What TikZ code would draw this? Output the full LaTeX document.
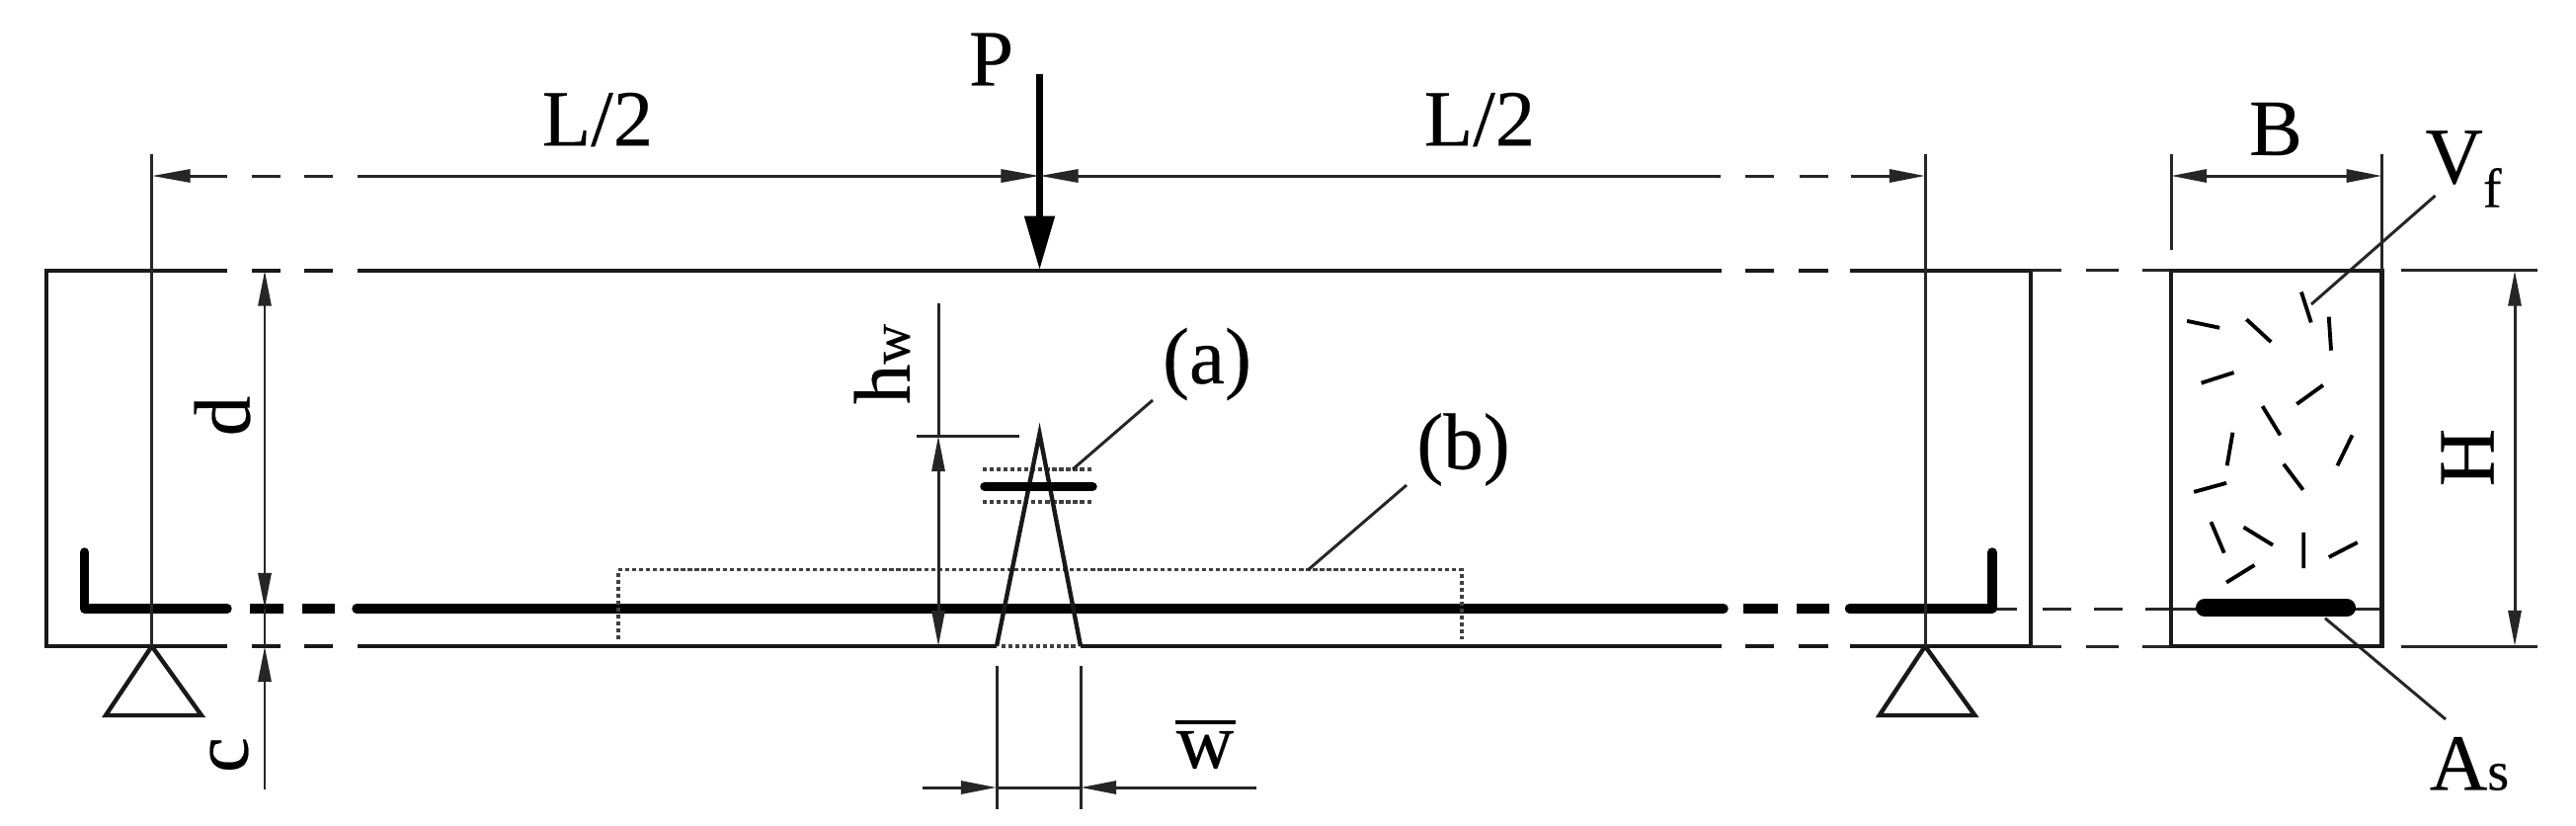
\documentclass[tikz,border=0pt]{standalone}
\usepackage{fontspec}
\setmainfont[RawFeature={embolden=0.25}]{Liberation Serif}
\usetikzlibrary{arrows.meta}
\newcommand{\subsize}{\fontsize{16}{16}\selectfont}
\tikzset{
  beamline/.style={line width=1.25pt,black!90},
  thinline/.style={line width=0.85pt,black!85},
  rebar/.style={line width=2.7pt,black,line cap=round,line join=round},
  dotline/.style={line width=1pt,black!75,dash pattern=on 1.2pt off 0.8pt},
  fibre/.style={line width=1.1pt,black},
  dimtip/.style={-{Triangle[length=0.36cm,width=0.13cm]}},
  bothtip/.style={{Triangle[length=0.36cm,width=0.13cm]}-{Triangle[length=0.36cm,width=0.13cm]}},
  lbl/.style={inner sep=0,font=\fontsize{23}{23}\selectfont,text=black},
}
\begin{document}
\begin{tikzpicture}[x=0.01cm,y=-0.01cm]
\useasboundingbox (0,0) rectangle (2608,835);
\fill[white] (0,0) rectangle (2608,835);
% named reference points
\coordinate (ST) at (153.7,654);
\coordinate (SR) at (1949,654);
\coordinate (CT) at (1052.5,439);
\coordinate (CL) at (1009,654);
\coordinate (CR) at (1094,654);

% ---- beam outline
\draw[beamline] (362,273.7) -- (1743,273.7) (1767,273.7) -- (1796,273.7) (1821,273.7) -- (1851,273.7);
\draw[beamline] (230,273.7) -- (47,273.7) -- (47,654) -- (230,654);
\draw[beamline] (255,273.7) -- (284,273.7) (308,273.7) -- (337,273.7);
\draw[beamline] (255,654) -- (284,654) (308,654) -- (337,654);
\draw[beamline] (362,654) -- (CL) (CR) -- (1743,654) (1767,654) -- (1796,654) (1821,654) -- (1851,654);
\draw[beamline] (1873,273.7) -- (2056,273.7) -- (2056,654) -- (1873,654);

% ---- projection lines between beam and section
\draw[thinline] (2056,273.7) -- (2087,273.7) (2112,273.7) -- (2145,273.7) (2169,273.7) -- (2198,273.7);
\draw[thinline] (2056,654) -- (2087,654) (2112,654) -- (2145,654) (2169,654) -- (2198,654);
\draw[thinline] (2017,616) -- (2041.6,616) (2067.7,616) -- (2096.6,616) (2120,616) -- (2149,616) (2172,616) -- (2224,616);
\draw[thinline] (2384,616) -- (2411.6,616);
\draw[thinline] (2430.7,273.7) -- (2568.6,273.7) (2430.7,654) -- (2568.6,654);

% ---- rebar
\draw[rebar] (85.5,559) -- (85.5,616) -- (230,616);
\draw[rebar,line cap=butt] (252.5,616) -- (287,616) (306,616) -- (338.5,616);
\draw[rebar] (361,616) -- (1745,616);
\draw[rebar,line cap=butt] (1765,616) -- (1799.6,616) (1818.7,616) -- (1851.7,616);
\draw[rebar] (1872.5,616) -- (2017,616) -- (2017,559);

% ---- dotted boxes
\draw[dotline] (626,647) -- (626,576.7) -- (1480,576.7) -- (1480,647);
\draw[dotline] (995,475) -- (1106,475) (995,508) -- (1106,508);
\draw[dotline] (1014,654) -- (1090,654);

% ---- crack and small bar
\draw[beamline] (CL) -- (CT) -- (CR);
\draw[rebar] (997,492.5) -- (1106,492.5);

% ---- supports
\draw[beamline,line join=miter] (ST) -- (107,724) -- (204,724) -- cycle;
\draw[beamline,line join=miter] (SR) -- (1902.7,724) -- (1999.4,724) -- cycle;

% ---- L/2 dimension line
\draw[thinline] (153.7,155.5) -- (ST);
\draw[thinline] (1949,155.5) -- (SR);
\draw[thinline,{Triangle[length=0.39cm,width=0.13cm]}-] (153.7,178) -- (230,178);
\draw[thinline] (255,178) -- (284,178) (308,178) -- (337,178);
\draw[thinline,-{Triangle[length=0.39cm,width=0.13cm]}] (362,178) -- (1052.5,178);
\draw[thinline,{Triangle[length=0.39cm,width=0.13cm]}-] (1052.5,178) -- (1741.7,178);
\draw[thinline] (1767,178) -- (1796,178) (1821.6,178) -- (1851,178);
\draw[thinline,-{Triangle[length=0.36cm,width=0.13cm]}] (1873.7,178) -- (1949,178);

% ---- load P
\draw[line width=2.2pt,black,-{Triangle[length=0.55cm,width=0.29cm]}] (1052.5,74.5) -- (1052.5,273.7);

% ---- d and c dimension
\draw[thinline,bothtip] (268,273.7) -- (268,616);
\draw[thinline] (268,616) -- (268,654);
\draw[thinline,{Triangle[length=0.36cm,width=0.13cm]}-] (268,654) -- (268,799);

% ---- h_w dimension
\draw[thinline] (927.6,441) -- (1032,441);
\draw[thinline] (950,307) -- (950,441);
\draw[thinline,bothtip] (950,441) -- (950,654);

% ---- w dimension
\draw[thinline] (1009,673.6) -- (1009,819) (1094,673.6) -- (1094,819);
\draw[thinline,-{Triangle[length=0.36cm,width=0.13cm]}] (934,797) -- (1009,797);
\draw[thinline] (1009,797) -- (1094,797);
\draw[thinline,-{Triangle[length=0.36cm,width=0.13cm]}] (1272,797) -- (1094,797);
\draw[line width=1.3pt,black] (1190,731) -- (1251,731);

% ---- leaders
\draw[thinline] (1086,475) -- (1167,405);
\draw[thinline] (1324.4,576.7) -- (1424,491);
\draw[thinline] (2465.5,198) -- (2340,308);
\draw[thinline] (2354,625.7) -- (2476,728);

% ---- cross section
\draw[beamline] (2198,273.7) rectangle (2411.6,654);
\draw[line width=18*0.2845pt,line cap=round,black] (2232,615.3) -- (2376,615.3);
\draw[thinline] (2198,155.5) -- (2198,253) (2411.6,155.5) -- (2411.6,273.7);
\draw[thinline,bothtip] (2198,178) -- (2411.6,178);
\draw[thinline,bothtip] (2546,273.7) -- (2546,654);

% ---- fibres
\begin{scope}[shift={(1700,0)},xscale=0.579,yscale=0.5325]
\draw[fibre] (1088,555) -- (1105,613) (888,610) -- (945,623) (992,607) -- (1035,650)
  (1136,602) -- (1140,666) (913,728) -- (970,708) (1080,768) -- (1126,732)
  (1020,772) -- (1051,827) (968,822) -- (958,885) (1177,827) -- (1151,885)
  (1057,882) -- (1091,931) (900,935) -- (957,918) (930,992) -- (953,1051)
  (987,1002) -- (1038,1036) (1092,1012) -- (1092,1080) (1136,1059) -- (1186,1031)
  (957,1107) -- (1006,1074);
\end{scope}

% ---- labels
\node[lbl] (L1) at (605,121) {L/2};
\node[lbl] (L2) at (1498,121) {L/2};
\node[lbl] (P) at (1003.6,60) {P};
\node[lbl,rotate=90] (d) at (225,421) {d};
\node[lbl,rotate=90] (c) at (232,764) {c};
\node[lbl,rotate=90] (hw) at (893,368.5) {h{\subsize w}};
\node[lbl] (a) at (1222,368.5) {(a)};
\node[lbl] (b) at (1481.5,455) {(b)};
\node[lbl] (w) at (1220,759) {w};
\node[lbl] (B) at (2304,130.5) {B};
\node[lbl,rotate=90] (H) at (2498,463) {H};
\node[lbl] (Vf) at (2494,171) {V\raisebox{-0.3em}{\subsize f}};
\node[lbl] (As) at (2500,773) {A{\subsize s}};
\end{tikzpicture}
\end{document}
